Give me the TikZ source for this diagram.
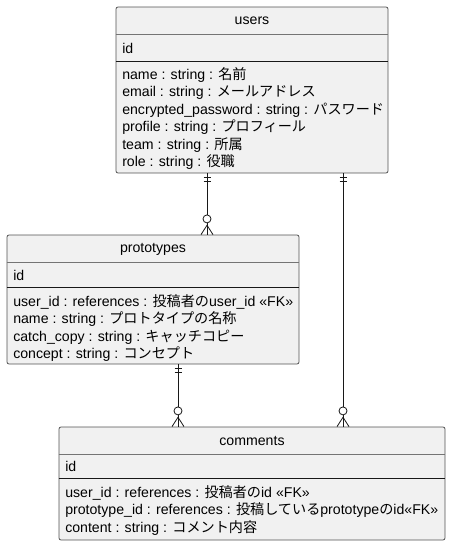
\documentclass[tikz,border=0pt]{standalone}
\usepackage{fontspec}
\setmainfont{Liberation Sans}
\newfontfamily\jpfont{Noto Sans CJK JP}
\newcommand{\ja}[1]{{\jpfont #1}}
\usetikzlibrary{fit}

\definecolor{entfill}{RGB}{241,241,241}
\definecolor{entline}{RGB}{24,24,24}

\tikzset{
  entity/.style={draw=entline!75, fill=entfill, rounded corners=1.5pt, line width=0.6pt, inner sep=0pt},
  titlesep/.style={draw=entline!60, line width=0.5pt},
  idsep/.style={draw=entline, line width=0.6pt},
  ename/.style={inner sep=0pt, font=\fontsize{10.6}{12}\selectfont},
  field/.style={inner sep=0pt, anchor=west, font=\fontsize{10.6}{12}\selectfont},
  rel/.style={draw=entline, line width=0.6pt},
  % pics are drawn without the yscale=-1 of the picture
  onlyone/.pic={
    \draw[rel] (-3.5,-4) -- (3.5,-4);
    \draw[rel] (-3.5,-8) -- (3.5,-8);
  },
  zeromany/.pic={
    \draw[rel, fill=white] (0,15.7) circle[radius=4];
    \draw[rel] (-6,0) -- (0,9.3) -- (6,0);
  }
}

\begin{document}
\begin{tikzpicture}[x=0.75pt,y=0.75pt,yscale=-1]
\useasboundingbox (0,0) rectangle (451,546);

% users
\node[entity, fit={(116,7) (388,173)}] (users) {};
\draw[titlesep] (users.west |- 0,34) -- (users.east |- 0,34);
\draw[idsep] (users.west |- 0,61) -- (users.east |- 0,61);
\node[ename] (users title) at (252,21) {users};
\node[field] (u id) at (122,48) {id};
\node[field] (u name) at (122,75) {name : string : \ja{名前}};
\node[field] (u email) at (122,92.5) {email : string : \ja{メールアドレス}};
\node[field] (u pass) at (122,110) {encrypted\_password : string : \ja{パスワード}};
\node[field] (u profile) at (122,127.5) {profile : string : \ja{プロフィール}};
\node[field] (u team) at (122,145) {team : string : \ja{所属}};
\node[field] (u role) at (122,162.5) {role : string : \ja{役職}};

% prototypes
\node[entity, fit={(7,235) (299,364)}] (prototypes) {};
\draw[titlesep] (prototypes.west |- 0,262) -- (prototypes.east |- 0,262);
\draw[idsep] (prototypes.west |- 0,287) -- (prototypes.east |- 0,287);
\node[ename] (prototypes title) at (153,249) {prototypes};
\node[field] (p id) at (13,275) {id};
\node[field] (p user) at (13,302) {user\_id : references : \ja{投稿者の}user\_id «FK»};
\node[field] (p name) at (13,319.5) {name : string : \ja{プロトタイプの名称}};
\node[field] (p catch) at (13,337) {catch\_copy : string : \ja{キャッチコピー}};
\node[field] (p concept) at (13,354.5) {concept : string : \ja{コンセプト}};

% comments
\node[entity, fit={(59,427) (445,540)}] (comments) {};
\draw[titlesep] (comments.west |- 0,454) -- (comments.east |- 0,454);
\draw[idsep] (comments.west |- 0,478) -- (comments.east |- 0,478);
\node[ename] (comments title) at (252,441) {comments};
\node[field] (c id) at (65,466) {id};
\node[field] (c user) at (65,493) {user\_id : references : \ja{投稿者の}id «FK»};
\node[field] (c proto) at (65,510.5) {prototype\_id : references : \ja{投稿している}prototype\ja{の}id«FK»};
\node[field] (c content) at (65,528) {content : string : \ja{コメント内容}};

% relations
\draw[rel] (users.south -| 207,0) -- (prototypes.north -| 207,0);
\path (users.south -| 207,0) pic {onlyone};
\path (prototypes.north -| 207,0) pic {zeromany};

\draw[rel] (prototypes.south -| 178,0) -- (comments.north -| 178,0);
\path (prototypes.south -| 178,0) pic {onlyone};
\path (comments.north -| 178,0) pic {zeromany};

\draw[rel] (users.south -| 343,0) -- (comments.north -| 343,0);
\path (users.south -| 343,0) pic {onlyone};
\path (comments.north -| 343,0) pic {zeromany};

\end{tikzpicture}
\end{document}
